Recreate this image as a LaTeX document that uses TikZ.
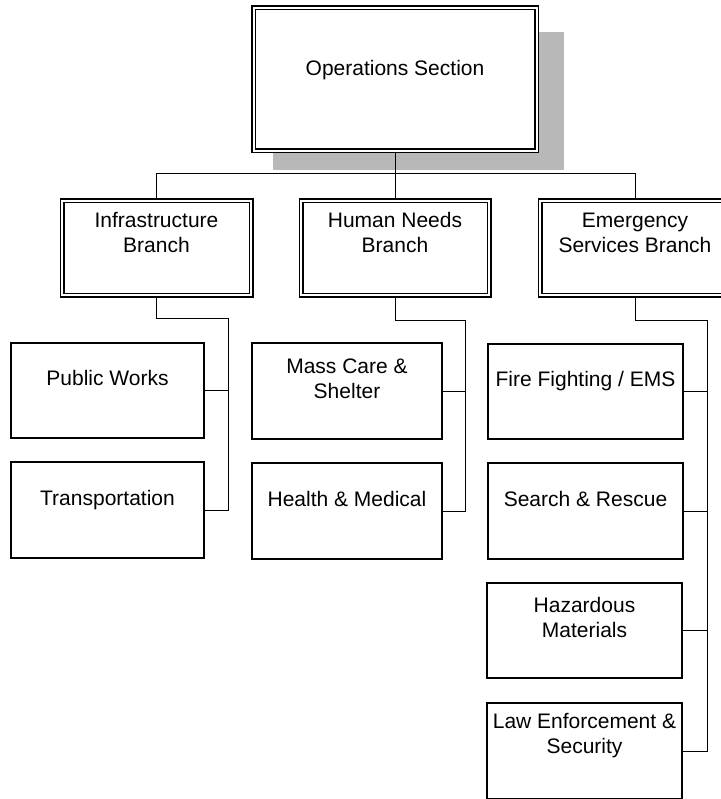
\documentclass[tikz,border=0pt]{standalone}
\usepackage{fontspec}
\setmainfont{Liberation Sans}
\begin{document}
\begin{tikzpicture}[x=1pt,y=-1pt,
  cbox/.style={draw=black, line width=1.5pt, fill=white, inner sep=0pt, minimum width=#1, minimum height=96pt},
  dbox/.style={draw=black, double=white, line width=1.5pt, double distance=2pt, fill=white, inner sep=0pt, minimum height=94pt},
  txt/.style={font=\fontsize{21}{25}\selectfont, align=center, inner sep=0pt, anchor=base},
  conn/.style={draw=black, line width=1pt}
]
\useasboundingbox (0,0) rectangle (720,799);
% shadow of the top box
\fill[black!28] (273,32) rectangle (564,170);
% boxes
\node[dbox, minimum width=283pt, minimum height=143pt] (ops) at (395,79.5) {};
\node[dbox, minimum width=189pt] (ib) at (156.5,248) {};
\node[dbox, minimum width=188pt] (hn) at (395,248) {};
\node[dbox, minimum width=190pt] (esb) at (635,248) {};
\node[cbox=193pt, minimum height=95pt] (pw) at (107.5,390.5) {};
\node[cbox=193pt] (tr) at (107.5,510) {};
\node[cbox=190pt] (mc) at (347,391) {};
\node[cbox=190pt] (hm) at (347,511) {};
\node[cbox=195pt, minimum height=95pt] (ff) at (585.5,391.5) {};
\node[cbox=195pt] (sr) at (585.5,511) {};
\node[cbox=195pt, minimum height=95pt] (hz) at (584.5,630.5) {};
\node[cbox=195pt] (le) at (584.5,751) {};
% texts (anchor base = baseline of the last line)
\node[txt] (opst) at (395,76) {Operations Section};
\node[txt] (ibt) at (156.5,253) {Infrastructure\\Branch};
\node[txt] (hnt) at (395,253) {Human Needs\\Branch};
\node[txt] (esbt) at (635,253) {Emergency\\Services Branch};
\node[txt] (pwt) at (107.5,385) {Public Works};
\node[txt] (trt) at (107.5,505) {Transportation};
\node[txt] (mct) at (347,398) {Mass Care \&\\Shelter};
\node[txt] (hmt) at (347,506) {Health \& Medical};
\node[txt] (fft) at (585.5,386) {Fire Fighting / EMS};
\node[txt] (srt) at (585.5,506) {Search \& Rescue};
\node[txt] (hzt) at (584.5,637) {Hazardous\\Materials};
\node[txt] (let) at (584.5,753) {Law Enforcement \&\\Security};
% connectors
\coordinate (busl) at (156.5,174);
\coordinate (ibj) at (228,318);
\coordinate (hnj) at (465,320);
\coordinate (esj) at (707,320);
\draw[conn] (ops.south) -- (hn.north);
\draw[conn] (ib.north) -- (busl) -| (esb.north);
\draw[conn] (ib.south) |- (ibj) |- (tr.east);
\draw[conn] (pw.east) -- (pw.east -| ibj);
\draw[conn] (hn.south) |- (hnj) |- (hm.east);
\draw[conn] (mc.east) -- (mc.east -| hnj);
\draw[conn] (esb.south) |- (esj) |- (le.east);
\draw[conn] (ff.east) -- (ff.east -| esj);
\draw[conn] (sr.east) -- (sr.east -| esj);
\draw[conn] (hz.east) -- (hz.east -| esj);
\end{tikzpicture}
\end{document}
